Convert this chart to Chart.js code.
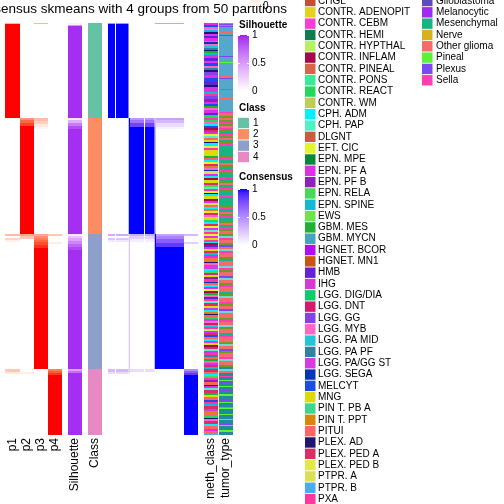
<!DOCTYPE html>
<html><head><meta charset="utf-8">
<script src="https://cdn.jsdelivr.net/npm/chart.js@4.4.1/dist/chart.umd.min.js"></script>
<style>html,body{margin:0;padding:0;background:#fff;overflow:hidden}</style>
</head><body>
<canvas id="c" width="504" height="504"></canvas>
<script>
// ---------------- DATA ----------------
const TITLE = 'Consensus skmeans with 4 groups from 50 partitions';
// run-length encoded rows (top to bottom): [value, count]
const classRuns = [[1,95],[2,116],[3,135],[4,66]];
const p1 = [[0.4,1],[1,94],[0,116],[0.35,2],[0,2],[0.22,2],[0.08,2],[0,127],[0.3,3],[0.12,2],[0,61]];
const p2 = [[0,95],[0.55,2],[0.75,3],[0.88,3],[1,108],[0.45,2],[0.3,3],[0,133],[0.1,2],[0,61]];
const p3 = [[0.4,1],[0,94],[0.35,3],[0.25,3],[0.12,3],[0.05,2],[0,105],[0.45,2],[0.55,2],[0.65,2],[0.75,2],[0.85,3],[0.93,3],[1,121],[0,66]];
const p4 = [[0,211],[0.3,2],[0,6],[0.1,2],[0,125],[0.65,2],[0.8,2],[0.92,2],[1,60]];
const silhouette = [[0.08,2],[0.5,1],[0.96,92],[0.1,2],[0.4,3],[0.65,3],[0.85,3],[0.96,105],[0.1,2],[0.3,2],[0.45,3],[0.6,3],[0.75,3],[0.88,3],[0.96,119],[0.45,2],[0.7,2],[0.96,62]];
// consensus matrix, by column groups
const cons1 = [[0.5,1],[1,94],[0,116],[0.35,2],[0,2],[0.25,2],[0.1,2],[0,127],[0.3,3],[0.15,2],[0,61]];
const cons2edge = [[0,95],[1,116],[0.25,135],[0.2,4],[0,62]];
const cons2 = [[0,95],[0.45,2],[0.6,3],[0.8,4],[1,107],[0.35,2],[0.2,3],[0.08,3],[0,127],[0.15,3],[0,63]];
const cons3edge = [[0.4,1],[0,94],[0.3,116],[1,135],[0,66]];
const cons3 = [[0.4,1],[0,94],[0.4,2],[0.3,3],[0.15,4],[0.05,2],[0,105],[0.4,2],[0.55,3],[0.7,4],[0.85,4],[1,122],[0,66]];
const cons4 = [[0,211],[0.3,2],[0,6],[0.2,2],[0,125],[0.5,2],[0.7,2],[0.85,2],[1,60]];
const consGap = [[0,412]];

const methCode = {CH:'CHGL',AD:'CONTR. ADENOPIT',CB:'CONTR. CEBM',HE:'CONTR. HEMI',HY:'CONTR. HYPTHAL',IN:'CONTR. INFLAM',PN:'CONTR. PINEAL',PO:'CONTR. PONS',RE:'CONTR. REACT',WM:'CONTR. WM',CA:'CPH. ADM',CP:'CPH. PAP',DL:'DLGNT',EF:'EFT. CIC',MP:'EPN. MPE',PA:'EPN. PF A',PB:'EPN. PF B',RL:'EPN. RELA',SP:'EPN. SPINE',EW:'EWS',GM:'GBM. MES',GY:'GBM. MYCN',BC:'HGNET. BCOR',MN:'HGNET. MN1',HM:'HMB',IH:'IHG',DG:'LGG. DIG/DIA',DN:'LGG. DNT',GG:'LGG. GG',MY:'LGG. MYB',PM:'LGG. PA MID',PF:'LGG. PA PF',PG:'LGG. PA/GG ST',SG:'LGG. SEGA',ML:'MELCYT',MG:'MNG',PBA:'PIN T. PB A',PP:'PIN T. PPT',PI:'PITUI',XA:'PLEX. AD',XP:'PLEX. PED A',XB:'PLEX. PED B',TA:'PTPR. A',TB:'PTPR. B',PX:'PXA'};
const methClassRuns = [
 ['PA',2],['ML',2],['MY',2],['CA',1],['SP',2],['XA',2],['PG',2],['HM',2],['PA',3],['PP',1],['SG',2],['MY',2],['PM',2],['PF',2],['XA',1],['GM',2],['SP',2],['PA',3],['HM',3],['PG',2],['ML',3],['MY',2],['PF',2],['XA',2],['GG',3],['PA',3],['ML',4],['HM',3],['XA',2],['PA',3],['IH',2],['SP',2],['PX',2],['GG',3],['PB',3],['PA',2],['ML',2],['GM',2],['MY',2],['PA',3],['HM',2],['RE',3],
 ['PX',2],['RE',2],['MY',2],['CA',2],['ML',2],['IN',2],['XP',2],['PA',2],['EF',2],['CP',2],['PI',2],['MG',2],['XA',1],['CA',3],['XB',2],['PX',2],['MG',6],['GM',2],['PI',2],['CA',2],['EF',2],['XP',2],['PP',2],['MY',2],['SG',1],['TA',3],['PA',2],['CA',2],['IN',2],['MG',3],['XP',2],['RL',2],['CP',2],['PX',2],['EF',2],['XA',1],['CA',2],['MG',3],['IN',2],['PA',2],['TA',2],['PI',2],['CA',2],['PP',2],['XB',2],['XP',2],['MY',2],['MG',3],['RE',2],['CA',2],['XP',2],['EF',2],['PA',2],['CP',2],['PX',2],
 ['EF',2],['PA',2],['MG',2],['PX',2],['CA',1],['IN',2],['HM',2],['PG',2],['MG',2],['XP',2],['SP',2],['PA',3],['PI',2],['PP',2],['XA',1],['MY',2],['PG',4],['CA',2],['RL',2],['XP',2],['MG',2],['PB',2],['PX',3],['SG',1],['PI',2],['CA',2],['PA',2],['EF',2],['IN',2],['GM',2],['MY',2],['HM',2],['PX',2],['CP',2],['XP',3],['MG',2],['PA',2],['CA',2],['PP',2],['XA',1],['PI',2],['RE',2],['PG',2],['MY',2],['DN',2],['PM',2],['PX',2],['HY',2],['PA',2],['XP',2],['ML',2],['PI',2],['CA',2],['PG',2],['MG',2],['IN',2],['XP',2],['CP',2],['PA',2],['PX',2],['PF',2],['PI',2],['GM',2],['MY',2],['PA',2],['XP',2],['SP',2],
 ['XP',3],['PI',2],['CA',2],['RL',2],['PX',2],['PB',2],['PI',3],['XA',1],['PA',2],['CP',2],['XP',3],['GM',2],['MG',2],['PI',3],['ML',2],['PX',2],['SP',2],['XP',3],['PG',2],['PP',2],['PI',3],['RE',2],['XA',1],['MY',2],['XP',3],['CA',2],['PI',3],['PA',2],['PI',2],['TB',2]
];
const methLegendNames = ['CHGL','CONTR. ADENOPIT','CONTR. CEBM','CONTR. HEMI','CONTR. HYPTHAL','CONTR. INFLAM','CONTR. PINEAL','CONTR. PONS','CONTR. REACT','CONTR. WM','CPH. ADM','CPH. PAP','DLGNT','EFT. CIC','EPN. MPE','EPN. PF A','EPN. PF B','EPN. RELA','EPN. SPINE','EWS','GBM. MES','GBM. MYCN','HGNET. BCOR','HGNET. MN1','HMB','IHG','LGG. DIG/DIA','LGG. DNT','LGG. GG','LGG. MYB','LGG. PA MID','LGG. PA PF','LGG. PA/GG ST','LGG. SEGA','MELCYT','MNG','PIN T. PB A','PIN T. PPT','PITUI','PLEX. AD','PLEX. PED A','PLEX. PED B','PTPR. A','PTPR. B','PXA'];
const methLegendColors = ['#C0532C','#E4D21E','#F83CD8','#0D7D4F','#B5F25E','#A50A48','#D9644A','#3AE89A','#22D85A','#BFCD55','#00F0FF','#50F0C8','#CC5B3A','#E2F52B','#07883C','#E02EE8','#8F1FBF','#47D858','#12B9D2','#6FE24E','#1FB232','#42A4BF','#B00CF7','#C95610','#6422D6','#D63AD6','#09CF6B','#D8186E','#8442E6','#FF66C4','#22C6D4','#2E849E','#D63AE0','#0536B5','#1B4EE6','#DED90A','#3ED68C','#D8860C','#FF6462','#1E1670','#D72E66','#E4E84A','#DADF56','#46AEEE','#FF389F'];

const tumorCode = {E:'Embryonal',P:'Ependymal',G:'Germ cell',N:'Glio-neuronal',B:'Glioblastoma',Mc:'Melanocytic',Ms:'Mesenchymal',Nv:'Nerve',O:'Other glioma',Pi:'Pineal',Pl:'Plexus',S:'Sella'};
const tumorTypeRuns = [
 ['O',1],['Pl',1],['E',1],['Pl',1],['E',5],['O',1],['E',2],['Pl',1],['E',20],['Pl',1],['E',5],['Pi',1],['E',13],['O',1],['E',1],['Pl',1],['E',10],['N',1],['E',5],['O',1],['E',2],['O',2],['E',12],['S',1],['O',2],['E',1],['N',2],
 ['O',2],['N',2],['S',2],['N',2],['O',2],['S',1],['N',2],['Ms',3],['S',2],['N',2],['O',2],['Ms',2],['N',2],['S',2],['Ms',10],['N',2],['S',2],['Ms',3],['O',2],['N',2],['Ms',3],['S',2],['N',2],['Ms',3],['S',2],['Ms',2],['N',2],['O',2],['Ms',3],['S',2],['N',2],['Ms',3],['S',2],['Ms',8],['N',2],['S',2],['Ms',3],['O',2],['N',2],['S',2],['Ms',3],['N',2],['O',2],['Ms',2],['S',2],['N',2],['O',3],
 ['N',2],['G',2],['S',2],['O',3],['N',2],['Pl',2],['O',2],['G',2],['S',2],['O',4],['N',2],['Ms',2],['O',5],['G',2],['S',2],['N',2],['O',4],['Pl',2],['G',2],['O',3],['N',2],['S',2],['O',5],['Ms',2],['N',2],['G',2],['O',4],['S',2],['N',2],['O',3],['Pl',2],['G',2],['O',5],['N',2],['S',2],['O',3],['G',2],['N',2],['O',4],['Ms',2],['S',2],['O',5],['N',2],['G',2],['O',3],['Pl',2],['N',2],['O',4],['S',2],['G',2],['O',4],['N',2],['P',2],
 ['G',2],['O',2],['P',3],['S',1],['P',3],['Pi',1],['Pl',2],['P',3],['Pi',1],['P',3],['Pl',1],['P',3],['Pi',2],['P',4],['Pl',2],['Pi',1],['P',4],['O',1],['Pi',1],['P',4],['Pl',1],['Pi',1],['P',4],['Pi',1],['P',4],['Pl',1],['Pi',1],['P',4],['Pi',2],['P',3]
];
const tumorLegendNames = ['Embryonal','Ependymal','Germ cell','Glio-neuronal','Glioblastoma','Melanocytic','Mesenchymal','Nerve','Other glioma','Pineal','Plexus','Sella'];
const tumorLegendColors = ['#55A7CC','#218A9E','#70D9CF','#6C9B2A','#5D4DB3','#9D2CF0','#17B387','#D6B21E','#F46B6B','#5BF23A','#7B48F2','#FF3DB5'];
const classColors = {1:'#66C2A5',2:'#FC8D62',3:'#8DA0CB',4:'#E78AC3'};

// ---------------- COLOR HELPERS (LAB interpolation) ----------------
function hexToRgb(h){h=h.replace('#','');return [0,2,4].map(i=>parseInt(h.substr(i,2),16));}
function toLin(c){c/=255;return c<=0.04045?c/12.92:Math.pow((c+0.055)/1.055,2.4);}
function fromLin(c){c=Math.max(0,Math.min(1,c));c=c<=0.0031308?12.92*c:1.055*Math.pow(c,1/2.4)-0.055;return Math.round(Math.max(0,Math.min(1,c))*255);}
const WX=0.95047,WY=1,WZ=1.08883;
function lf(t){return t>0.008856?Math.cbrt(t):7.787*t+16/116;}
function lfi(t){return t>0.206893?t*t*t:(t-16/116)/7.787;}
function rgbToLab(rgb){const [r,g,b]=rgb.map(toLin);
 const X=(0.4124*r+0.3576*g+0.1805*b)/WX,Y=(0.2126*r+0.7152*g+0.0722*b)/WY,Z=(0.0193*r+0.1192*g+0.9505*b)/WZ;
 const fx=lf(X),fy=lf(Y),fz=lf(Z);return [116*fy-16,500*(fx-fy),200*(fy-fz)];}
function labToRgb(L,a,b){const fy=(L+16)/116,fx=fy+a/500,fz=fy-b/200;
 const X=lfi(fx)*WX,Y=lfi(fy)*WY,Z=lfi(fz)*WZ;
 const r=3.2406*X-1.5372*Y-0.4986*Z,g=-0.9689*X+1.8758*Y+0.0415*Z,bb=0.0557*X-0.2040*Y+1.0570*Z;
 return 'rgb('+fromLin(r)+','+fromLin(g)+','+fromLin(bb)+')';}
function labRamp(c0,c1){const A=rgbToLab(hexToRgb(c0)),B=rgbToLab(hexToRgb(c1));
 return v=>labToRgb(A[0]+(B[0]-A[0])*v,A[1]+(B[1]-A[1])*v,A[2]+(B[2]-A[2])*v);}
const probRamp = labRamp('#FFFFFF','#FF0000');
const silRamp = labRamp('#FFFFFF','#A020F0');
const consRamp = labRamp('#FFFFFF','#0000FF');
const methColorOf = {}; methLegendNames.forEach((n,i)=>methColorOf[n]=methLegendColors[i]);
const tumorColorOf = {}; tumorLegendNames.forEach((n,i)=>tumorColorOf[n]=tumorLegendColors[i]);

function expand(runs, colorFn){const out=[];runs.forEach(([v,n])=>{const c=colorFn(v);for(let i=0;i<n;i++)out.push(c);});return out;}
const NROWS = classRuns.reduce((s,r)=>s+r[1],0);

// ---------------- LAYOUT (track widths in px units) ----------------
const tracks = [
 {label:'p1',w:15,runs:p1,col:probRamp},
 {label:'p2',w:14,runs:p2,col:probRamp},
 {label:'p3',w:14,runs:p3,col:probRamp},
 {label:'p4',w:14,runs:p4,col:probRamp},
 {w:6},
 {label:'Silhouette',w:14,runs:silhouette,col:silRamp},
 {w:6},
 {label:'Class',w:14,runs:classRuns,col:v=>classColors[v]},
 {w:6},
 {w:7,runs:cons1,col:consRamp},
 {w:1,runs:consGap,col:consRamp},
 {w:12.5,runs:cons1,col:consRamp},
 {w:1.5,runs:cons2edge,col:consRamp},
 {w:14,runs:cons2,col:consRamp},
 {w:1,runs:consGap,col:consRamp},
 {w:9.5,runs:cons2,col:consRamp},
 {w:1.5,runs:cons3edge,col:consRamp},
 {w:28,runs:cons3,col:consRamp},
 {w:14,runs:cons4,col:consRamp},
 {w:6},
 {label:'meth_class',w:14,runs:methClassRuns,col:c=>methColorOf[methCode[c]]},
 {w:1},
 {label:'tumor_type',w:14,runs:tumorTypeRuns,col:c=>tumorColorOf[tumorCode[c]]}
];
const TOTAL_W = tracks.reduce((s,t)=>s+t.w,0);
const AREA = {left:5, top:23, bottom:435};

const datasets = tracks.map(t=>({
 label: t.label||'',
 data: new Array(NROWS).fill(t.w),
 backgroundColor: t.runs ? expand(t.runs,t.col) : 'rgba(0,0,0,0)',
 borderWidth:0, inflateAmount:0, barPercentage:1, categoryPercentage:1
}));

const FONT = '"Liberation Sans", Arial, Helvetica, sans-serif';

function vBar(ctx,x,y0,y1,w,ramp){ // y0 bottom (v=0), y1 top (v=1)
 const g=ctx.createLinearGradient(0,y0,0,y1);
 for(let i=0;i<=20;i++)g.addColorStop(i/20,ramp(i/20));
 ctx.fillStyle=g; ctx.fillRect(x,Math.min(y0,y1),w,Math.abs(y1-y0));
}

const overlay = {
 id:'overlay',
 afterDraw(chart){
  const ctx=chart.ctx, xs=chart.scales.x;
  ctx.save();
  // title (clipped on the left as in the reference)
  ctx.fillStyle='#000'; ctx.font='13.5px '+FONT; ctx.textAlign='left'; ctx.textBaseline='alphabetic';
  ctx.fillText(TITLE, -ctx.measureText('Cons').width+1, 13);
  // bottom track labels
  ctx.font='12px '+FONT;
  let cum=0;
  tracks.forEach(t=>{
   if(t.label){
    const cx=xs.getPixelForValue(cum+t.w/2);
    ctx.save(); ctx.translate(cx, AREA.bottom+3); ctx.rotate(-Math.PI/2);
    ctx.textAlign='right'; ctx.textBaseline='middle'; ctx.fillText(t.label,0,0); ctx.restore();
   }
   cum+=t.w;
  });
  // Prob legend (mostly above the picture)
  vBar(ctx,250,6,-50,10,probRamp);
  ctx.fillStyle='#000'; ctx.font='10px '+FONT; ctx.textBaseline='middle'; ctx.textAlign='left';
  ctx.fillText('0',263,6);
  // Silhouette legend
  const lx=238;
  ctx.font='bold 10px '+FONT; ctx.fillStyle='#000';
  ctx.fillText('Silhouette',lx+1,25);
  vBar(ctx,lx,91,35,11,silRamp);
  ctx.strokeStyle='#fff'; ctx.lineWidth=1;
  [[35],[63]].forEach(([y])=>{ctx.beginPath();ctx.moveTo(lx,y+0.5);ctx.lineTo(lx+2,y+0.5);ctx.moveTo(lx+9,y+0.5);ctx.lineTo(lx+11,y+0.5);ctx.stroke();});
  ctx.font='10px '+FONT; ctx.fillStyle='#000';
  ctx.fillText('1',lx+14,35); ctx.fillText('0.5',lx+14,63); ctx.fillText('0',lx+14,91);
  // Class legend
  ctx.font='bold 10px '+FONT; ctx.fillText('Class',lx+1,108);
  ctx.font='10px '+FONT;
  [1,2,3,4].forEach((k,i)=>{
   const yc=123+i*11.32;
   ctx.fillStyle=classColors[k]; ctx.fillRect(lx,yc-5.2,11,10.4);
   ctx.fillStyle='#000'; ctx.fillText(String(k),lx+15,yc);
  });
  // Consensus legend
  ctx.font='bold 10px '+FONT; ctx.fillText('Consensus',lx+1,177);
  vBar(ctx,lx,245,189,11,consRamp);
  [[189],[217]].forEach(([y])=>{ctx.beginPath();ctx.moveTo(lx,y+0.5);ctx.lineTo(lx+2,y+0.5);ctx.moveTo(lx+9,y+0.5);ctx.lineTo(lx+11,y+0.5);ctx.stroke();});
  ctx.font='10px '+FONT; ctx.fillStyle='#000';
  ctx.fillText('1',lx+14,189); ctx.fillText('0.5',lx+14,217); ctx.fillText('0',lx+14,245);
  // meth_class legend
  methLegendNames.forEach((n,i)=>{
   const yc=1+i*11.32;
   ctx.fillStyle=methLegendColors[i]; ctx.fillRect(305,yc-5.2,10.5,10.4);
   ctx.fillStyle='#000'; ctx.fillText(n,318,yc);
  });
  // tumor_type legend
  const gIdx=tumorLegendNames.indexOf('Glioblastoma');
  tumorLegendNames.forEach((n,i)=>{
   const yc=1+(i-gIdx)*11.32;
   ctx.fillStyle=tumorLegendColors[i]; ctx.fillRect(422,yc-5.2,10.5,10.4);
   ctx.fillStyle='#000'; ctx.fillText(n,436,yc);
  });
  ctx.restore();
 }
};

new Chart(document.getElementById('c'),{
 type:'bar',
 data:{labels:Array.from({length:NROWS},(_,i)=>String(i)),datasets},
 options:{
  indexAxis:'y', responsive:false, maintainAspectRatio:false, animation:false, devicePixelRatio:1, events:[],
  layout:{padding:{left:AREA.left,right:504-AREA.left-TOTAL_W,top:AREA.top,bottom:504-AREA.bottom}},
  scales:{
   x:{type:'linear',stacked:true,min:0,max:TOTAL_W,display:false},
   y:{type:'category',stacked:true,display:false}
  },
  plugins:{legend:{display:false},tooltip:{enabled:false},title:{display:false}}
 },
 plugins:[overlay]
});
</script>
</body></html>
